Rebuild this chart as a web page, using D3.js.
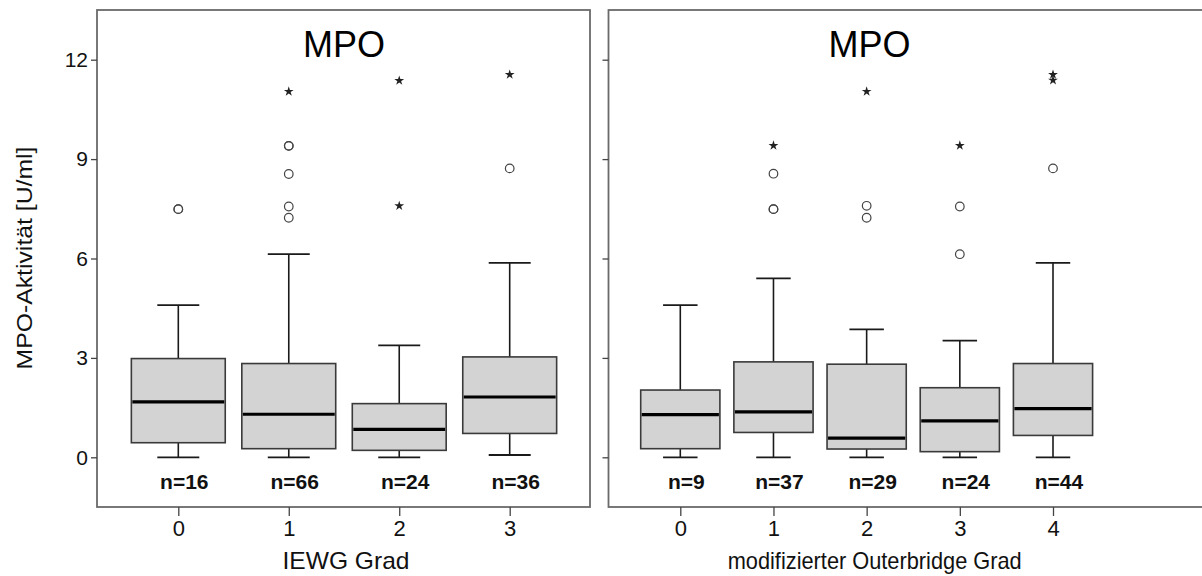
<!DOCTYPE html>
<html>
<head>
<meta charset="utf-8">
<script src="https://cdn.jsdelivr.net/npm/d3@7"></script>
<style>
  html, body { margin: 0; padding: 0; background: #fff; }
  svg { display: block; font-family: Arial, "Liberation Sans", sans-serif; }
</style>
</head>
<body>
<svg id="chart" width="1202" height="576"></svg>
<script>
// MPO activity by IEWG grade (left) and modified Outerbridge grade (right)
const yTicks = [0, 3, 6, 9, 12];

const iewgGrades = ["0", "1", "2", "3"];
const iewgN = [16, 66, 24, 36];
// [low whisker, Q1, median, Q3, high whisker]
const iewgStats = [
  [0.00, 0.44, 1.67, 2.98, 4.59],
  [0.00, 0.26, 1.30, 2.83, 6.13],
  [0.00, 0.21, 0.84, 1.62, 3.38],
  [0.07, 0.72, 1.82, 3.03, 5.87]
];
const iewgOutliers = [[7.49, 7.49], [7.23, 7.57, 8.55, 9.40, 9.40], [], [8.72]];
const iewgExtremes = [[], [11.04], [7.59, 11.37], [11.55]];

const obGrades = ["0", "1", "2", "3", "4"];
const obN = [9, 37, 29, 24, 44];
const obStats = [
  [0.00, 0.26, 1.29, 2.03, 4.59],
  [0.00, 0.75, 1.37, 2.88, 5.40],
  [0.00, 0.25, 0.58, 2.81, 3.86],
  [0.00, 0.17, 1.10, 2.10, 3.52],
  [0.00, 0.66, 1.47, 2.83, 5.87]
];
const obOutliers = [[], [7.49, 7.49, 8.56], [7.23, 7.59], [6.13, 7.57], [8.72]];
const obExtremes = [[], [9.41], [11.04], [9.41], [11.38, 11.55]];

const svg = d3.select("#chart");

const y = d3.scaleLinear().domain([-1.5, 13.5]).range([507, 10]);

function drawPanel(cfg) {
  const g = svg.append("g");
  const x = d3.scalePoint().domain(cfg.grades).range(cfg.tickRange);
  const step = x.step();
  const boxW = step * 0.85;
  const capW = step * cfg.cap;

  const rows = cfg.grades.map((k, i) => ({
    k, s: cfg.stats[i], n: cfg.n[i], out: cfg.outliers[i], ext: cfg.extremes[i]
  }));

  // panel frame
  g.append("rect")
    .attr("x", cfg.frame[0]).attr("y", y(13.5))
    .attr("width", cfg.frame[1] - cfg.frame[0]).attr("height", y(-1.5) - y(13.5))
    .attr("fill", "none").attr("stroke", "#6a6a6a").attr("stroke-width", 1.8);

  // y axis
  const yAxis = d3.axisLeft(y).tickValues(yTicks).tickSize(6).tickPadding(3)
    .tickFormat(cfg.yLabels ? d3.format("d") : () => "");
  const ya = g.append("g").attr("transform", `translate(${cfg.frame[0]},0)`).call(yAxis);
  ya.select(".domain").remove();
  ya.selectAll("line").attr("stroke", "#444").attr("stroke-width", 1.3);
  ya.selectAll("text").attr("font-size", 21).attr("fill", "#111");

  // x axis
  const xAxis = d3.axisBottom(x).tickSize(9).tickPadding(4);
  const xa = g.append("g").attr("transform", `translate(0,${y(-1.5)})`).call(xAxis);
  xa.select(".domain").remove();
  xa.selectAll("line").attr("stroke", "#444").attr("stroke-width", 1.3);
  xa.selectAll("text").attr("font-size", 22).attr("fill", "#111");

  const box = g.selectAll(".box").data(rows).join("g").attr("class", "box");

  // whiskers
  box.append("line")
    .attr("x1", d => x(d.k)).attr("x2", d => x(d.k))
    .attr("y1", d => y(d.s[4])).attr("y2", d => y(d.s[3]))
    .attr("stroke", "#1a1a1a").attr("stroke-width", 1.6);
  box.append("line")
    .attr("x1", d => x(d.k)).attr("x2", d => x(d.k))
    .attr("y1", d => y(d.s[1])).attr("y2", d => y(d.s[0]))
    .attr("stroke", "#1a1a1a").attr("stroke-width", 1.6);
  [0, 4].forEach(j => {
    box.append("line")
      .attr("x1", d => x(d.k) - capW / 2).attr("x2", d => x(d.k) + capW / 2)
      .attr("y1", d => y(d.s[j])).attr("y2", d => y(d.s[j]))
      .attr("stroke", "#1a1a1a").attr("stroke-width", 1.8);
  });

  // boxes
  box.append("rect")
    .attr("x", d => x(d.k) - boxW / 2).attr("width", boxW)
    .attr("y", d => y(d.s[3])).attr("height", d => y(d.s[1]) - y(d.s[3]))
    .attr("fill", "#d3d3d3").attr("stroke", "#3a3a3a").attr("stroke-width", 1.6);

  // medians
  box.append("line")
    .attr("x1", d => x(d.k) - boxW / 2 + 1).attr("x2", d => x(d.k) + boxW / 2 - 1)
    .attr("y1", d => y(d.s[2])).attr("y2", d => y(d.s[2]))
    .attr("stroke", "#000").attr("stroke-width", 3.2);

  // outliers (circles) and extremes (stars)
  box.selectAll(".out").data(d => d.out.map(v => ({ k: d.k, v }))).join("circle")
    .attr("class", "out")
    .attr("cx", d => x(d.k)).attr("cy", d => y(d.v)).attr("r", 4.3)
    .attr("fill", "none").attr("stroke", "#444").attr("stroke-width", 1.2);
  box.selectAll(".ext").data(d => d.ext.map(v => ({ k: d.k, v }))).join("path")
    .attr("class", "ext")
    .attr("transform", d => `translate(${x(d.k)},${y(d.v)})`)
    .attr("d", d3.symbol(d3.symbolStar, 30))
    .attr("fill", "#222");

  // case counts
  box.append("text")
    .attr("x", d => x(d.k) + 6).attr("y", y(-0.95))
    .attr("text-anchor", "middle").attr("font-size", 21).attr("font-weight", "bold")
    .attr("fill", "#111")
    .text(d => "n=" + d.n);

  // panel title
  g.append("text")
    .attr("x", cfg.titleX).attr("y", 57)
    .attr("text-anchor", "middle").attr("font-size", 36).attr("fill", "#000")
    .text("MPO");

  // x axis title
  g.append("text")
    .attr("x", cfg.labelX).attr("y", 569)
    .attr("text-anchor", "middle").attr("font-size", 24).attr("fill", "#111")
    .attr("textLength", cfg.labelLen).attr("lengthAdjust", "spacingAndGlyphs")
    .text(cfg.label);
}

drawPanel({
  grades: iewgGrades, n: iewgN, stats: iewgStats,
  outliers: iewgOutliers, extremes: iewgExtremes,
  tickRange: [178.3, 509.7], frame: [97, 590], cap: 0.38, yLabels: true,
  titleX: 344, label: "IEWG Grad", labelX: 346, labelLen: 127
});

drawPanel({
  grades: obGrades, n: obN, stats: obStats,
  outliers: obOutliers, extremes: obExtremes,
  tickRange: [680.3, 1053], frame: [608.5, 1216], cap: 0.37, yLabels: false,
  titleX: 869.5, label: "modifizierter  Outerbridge Grad", labelX: 874.7, labelLen: 294
});

// shared y axis title
svg.append("text")
  .attr("transform", "translate(32,258) rotate(-90)")
  .attr("text-anchor", "middle").attr("font-size", 22).attr("fill", "#111")
  .attr("textLength", 223).attr("lengthAdjust", "spacingAndGlyphs")
  .text("MPO-Aktivität [U/ml]");
</script>
</body>
</html>
